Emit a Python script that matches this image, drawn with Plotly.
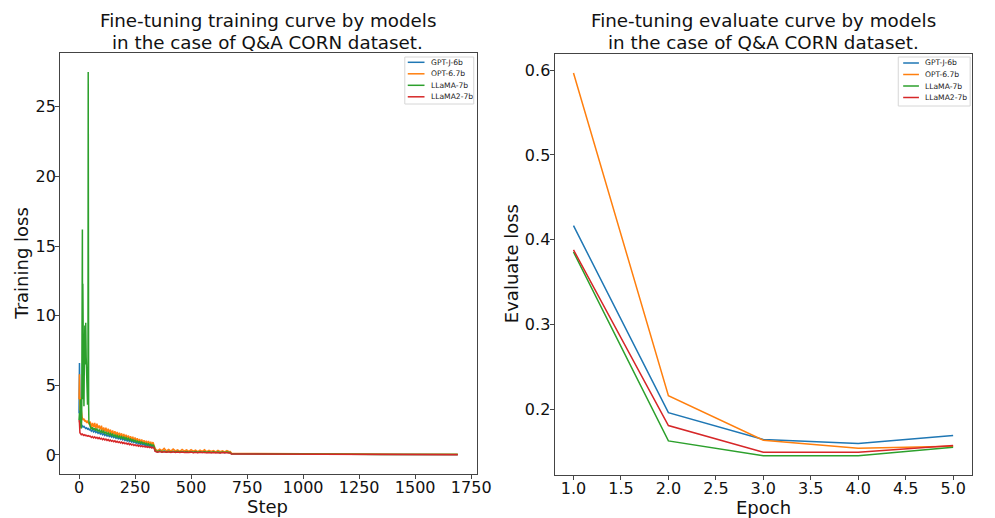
import plotly.graph_objects as go

W, H = 995, 518
FONT = "DejaVu Sans"

models = ["GPT-J-6b", "OPT-6.7b", "LLaMA-7b", "LLaMA2-7b"]
colors = ["#1f77b4", "#ff7f0e", "#2ca02c", "#d62728"]

# ---- training loss (per step) ----
# shared step grids for the later part of training
band_steps = list(range(50, 340, 5))      # epoch 1 body
mid_steps = list(range(340, 680, 10))     # epoch 2
tail_steps = [675, 680, 760, 850, 930, 1010, 1015, 1020, 1100, 1200, 1350, 1355, 1450, 1550, 1690]

gptj_head_steps = [0, 2, 4, 6, 8, 10, 14, 18, 22, 26, 30, 34, 38, 42, 46]
gptj_head = [3.0, 6.6, 4.2, 2.6, 2.3, 2.2, 2.1, 2.0, 2.05, 1.95, 1.9, 1.95, 1.85, 1.9, 1.8]
gptj_band = [1.85, 1.7, 1.8, 1.65, 1.74, 1.6, 1.68, 1.55, 1.63, 1.5,
             1.58, 1.45, 1.53, 1.4, 1.48, 1.36, 1.44, 1.32, 1.4, 1.28,
             1.36, 1.24, 1.32, 1.2, 1.28, 1.16, 1.24, 1.12, 1.2, 1.08,
             1.16, 1.04, 1.12, 1.0, 1.08, 0.96, 1.04, 0.92, 1.0, 0.88,
             0.96, 0.84, 0.92, 0.8, 0.88, 0.76, 0.84, 0.72, 0.8, 0.68,
             0.76, 0.64, 0.72, 0.6, 0.68, 0.56, 0.64, 0.52]
gptj_mid = [0.28, 0.22, 0.27, 0.21, 0.26, 0.21, 0.26, 0.2, 0.25, 0.2,
            0.25, 0.19, 0.24, 0.19, 0.24, 0.19, 0.23, 0.18, 0.23, 0.18,
            0.22, 0.18, 0.22, 0.17, 0.21, 0.17, 0.21, 0.17, 0.2, 0.16,
            0.2, 0.16, 0.2, 0.16]
gptj_tail = [0.16, 0.08, 0.08, 0.08, 0.07, 0.07, 0.04, 0.04, 0.04, 0.04, 0.03, 0.03, 0.03, 0.03, 0.03]

opt_head_steps = [0, 2, 4, 6, 8, 10, 14, 18, 22, 26, 30, 34, 38, 42, 46]
opt_head = [4.0, 5.8, 3.2, 4.1, 2.8, 3.2, 2.7, 2.5, 2.6, 2.4, 2.5, 2.3, 2.4, 2.3, 2.2]
opt_band = [2.4, 1.95, 2.3, 2.0, 2.3, 1.88, 2.25, 1.92, 2.12, 1.82,
            2.1, 1.72, 1.98, 1.68, 1.95, 1.62, 1.88, 1.58, 1.82, 1.52,
            1.75, 1.48, 1.7, 1.42, 1.64, 1.38, 1.6, 1.32, 1.55, 1.28,
            1.5, 1.22, 1.45, 1.18, 1.4, 1.12, 1.34, 1.08, 1.3, 1.02,
            1.25, 0.98, 1.2, 0.93, 1.14, 0.9, 1.1, 0.86, 1.05, 0.82,
            1.02, 0.78, 1.0, 0.76, 0.95, 0.73, 0.92, 0.7]
opt_mid = [0.44, 0.29, 0.41, 0.31, 0.47, 0.29, 0.39, 0.27, 0.42, 0.29,
           0.37, 0.26, 0.4, 0.28, 0.36, 0.25, 0.38, 0.27, 0.35, 0.24,
           0.34, 0.26, 0.37, 0.23, 0.33, 0.25, 0.31, 0.22, 0.33, 0.24,
           0.3, 0.21, 0.31, 0.23]
opt_tail = [0.24, 0.12, 0.11, 0.1, 0.1, 0.09, 0.06, 0.05, 0.05, 0.05, 0.04, 0.04, 0.04, 0.04, 0.04]

llama_head_steps = [0, 2, 4, 6, 8, 10, 12, 14, 15, 16, 17, 18, 19, 20, 22, 24, 26, 28, 30, 32,
                    34, 36, 38, 40, 41, 42, 43, 44, 46, 48]
llama_head = [2.5, 3.0, 2.2, 4.0, 2.0, 1.9, 2.6, 12.5, 16.2, 4.0, 12.3, 5.5, 8.0, 6.0, 3.5, 7.2, 9.3, 6.5, 9.5, 7.0,
              5.5, 4.5, 3.6, 6.0, 27.5, 5.0, 3.5, 2.4, 2.2, 2.1]
llama_band = [2.05, 1.85, 1.98, 1.8, 1.92, 1.74, 1.86, 1.7, 1.8, 1.64,
              1.75, 1.58, 1.7, 1.54, 1.64, 1.48, 1.6, 1.44, 1.55, 1.4,
              1.5, 1.35, 1.45, 1.3, 1.4, 1.26, 1.36, 1.22, 1.32, 1.18,
              1.28, 1.14, 1.24, 1.1, 1.2, 1.06, 1.15, 1.02, 1.1, 0.98,
              1.05, 0.94, 1.0, 0.9, 0.96, 0.86, 0.92, 0.82, 0.88, 0.78,
              0.84, 0.74, 0.8, 0.7, 0.76, 0.66, 0.72, 0.62]
llama_mid = [0.3, 0.24, 0.29, 0.23, 0.28, 0.22, 0.27, 0.22, 0.27, 0.21,
             0.26, 0.21, 0.25, 0.2, 0.25, 0.2, 0.24, 0.2, 0.24, 0.19,
             0.23, 0.19, 0.23, 0.19, 0.22, 0.18, 0.22, 0.18, 0.21, 0.18,
             0.21, 0.17, 0.21, 0.17]
llama_tail = [0.17, 0.09, 0.09, 0.08, 0.08, 0.08, 0.04, 0.04, 0.04, 0.04, 0.03, 0.03, 0.03, 0.03, 0.03]

llama2_head_steps = [0, 2, 4, 6, 10, 14, 18, 22, 26, 30, 34, 38, 42, 46]
llama2_head = [2.5, 2.3, 1.6, 1.5, 1.45, 1.5, 1.42, 1.4, 1.45, 1.38, 1.4, 1.35, 1.38, 1.33]
llama2_band = [1.35, 1.25, 1.32, 1.22, 1.3, 1.2, 1.27, 1.17, 1.24, 1.14,
               1.2, 1.1, 1.17, 1.07, 1.14, 1.04, 1.1, 1.01, 1.07, 0.98,
               1.04, 0.95, 1.01, 0.92, 0.98, 0.89, 0.95, 0.86, 0.92, 0.83,
               0.89, 0.8, 0.86, 0.77, 0.83, 0.74, 0.8, 0.71, 0.77, 0.68,
               0.74, 0.66, 0.71, 0.63, 0.69, 0.61, 0.66, 0.58, 0.64, 0.56,
               0.61, 0.54, 0.59, 0.52, 0.57, 0.5, 0.55, 0.48]
llama2_mid = [0.25, 0.2, 0.24, 0.19, 0.23, 0.19, 0.22, 0.18, 0.22, 0.18,
              0.21, 0.17, 0.21, 0.17, 0.2, 0.17, 0.2, 0.16, 0.19, 0.16,
              0.19, 0.16, 0.18, 0.15, 0.18, 0.15, 0.18, 0.15, 0.17, 0.14,
              0.17, 0.14, 0.16, 0.14]
llama2_tail = [0.14, 0.07, 0.07, 0.06, 0.06, 0.06, 0.03, 0.03, 0.03, 0.03, 0.03, 0.02, 0.02, 0.02, 0.02]

# ---- evaluation loss (per epoch) ----
epochs = [1, 2, 3, 4, 5]
eval_gptj = [0.4165, 0.196, 0.1643, 0.1596, 0.169]
eval_opt = [0.5965, 0.2161, 0.1635, 0.1541, 0.1565]
eval_llama = [0.3855, 0.1627, 0.1451, 0.1451, 0.1553]
eval_llama2 = [0.388, 0.1808, 0.1494, 0.1494, 0.1573]

train_series = [
    (gptj_head_steps, gptj_head, gptj_band, gptj_mid, gptj_tail),
    (opt_head_steps, opt_head, opt_band, opt_mid, opt_tail),
    (llama_head_steps, llama_head, llama_band, llama_mid, llama_tail),
    (llama2_head_steps, llama2_head, llama2_band, llama2_mid, llama2_tail),
]
eval_series = [eval_gptj, eval_opt, eval_llama, eval_llama2]


def px(x):
    return x / W


def py(y):
    return 1 - y / H


fig = go.Figure()

for name, color, (hs, hv, bv, mv, tv) in zip(models, colors, train_series):
    fig.add_trace(go.Scatter(
        x=hs + band_steps + mid_steps + tail_steps,
        y=hv + bv + mv + tv,
        mode="lines", name=name, line=dict(color=color, width=1.5),
        xaxis="x", yaxis="y", showlegend=False,
    ))

for name, color, vals in zip(models, colors, eval_series):
    fig.add_trace(go.Scatter(
        x=epochs, y=vals, mode="lines", name=name,
        line=dict(color=color, width=1.5),
        xaxis="x2", yaxis="y2", showlegend=False,
    ))

axis_common = dict(
    showline=True, mirror=True, linecolor="#444", linewidth=1,
    ticks="outside", ticklen=4, tickwidth=1, tickcolor="#444",
    showgrid=False, zeroline=False,
    tickfont=dict(family=FONT, size=16, color="#111"),
)

fig.update_layout(
    width=W, height=H,
    margin=dict(l=0, r=0, t=0, b=0),
    paper_bgcolor="white", plot_bgcolor="white",
    font=dict(family=FONT, color="#111"),
    xaxis=dict(domain=[px(61), px(484)], range=[-84.5, 1774.5],
               tickvals=[0, 250, 500, 750, 1000, 1250, 1500, 1750], anchor="y",
               ticklabelstandoff=-5, **axis_common),
    yaxis=dict(domain=[py(474), py(53)], range=[-1.37, 28.87],
               tickvals=[0, 5, 10, 15, 20, 25], anchor="x",
               ticklabelstandoff=-4, **axis_common),
    xaxis2=dict(domain=[px(563), px(987)], range=[0.8, 5.2],
                tickvals=[1.0, 1.5, 2.0, 2.5, 3.0, 3.5, 4.0, 4.5, 5.0], tickformat=".1f",
                anchor="y2", ticklabelstandoff=-5, **axis_common),
    yaxis2=dict(domain=[py(475), py(54)], range=[0.1225, 0.619],
                tickvals=[0.2, 0.3, 0.4, 0.5, 0.6], tickformat=".1f",
                anchor="x2", ticklabelstandoff=-4, **axis_common),
)

annotations = []
# titles, one annotation per line
for cx, line1, line2 in [
    (272, "Fine-tuning training curve by models", "in the case of Q&A CORN dataset."),
    (775, "Fine-tuning evaluate curve by models", "in the case of Q&A CORN dataset."),
]:
    for cy, text in [(20, line1), (42, line2)]:
        annotations.append(dict(x=px(cx), y=py(cy), text=text,
                                showarrow=False, xanchor="center", yanchor="middle",
                                font=dict(family=FONT, size=18.3, color="#111")))
# axis labels
annotations += [
    dict(x=px(272), y=py(506), text="Step", showarrow=False, xanchor="center", yanchor="middle",
         font=dict(family=FONT, size=18, color="#111")),
    dict(x=px(775), y=py(507), text="Epoch", showarrow=False, xanchor="center", yanchor="middle",
         font=dict(family=FONT, size=18, color="#111")),
    dict(x=px(21), y=py(263), text="Training loss", textangle=-90, showarrow=False,
         xanchor="center", yanchor="middle", font=dict(family=FONT, size=18, color="#111")),
    dict(x=px(519), y=py(264), text="Evaluate loss", textangle=-90, showarrow=False,
         xanchor="center", yanchor="middle", font=dict(family=FONT, size=18, color="#111")),
]
for a in annotations:
    a.setdefault("xref", "paper")
    a.setdefault("yref", "paper")

shapes = []
# legend boxes: (box left, top, right, bottom, line x0, line x1, text x, row ys)
legend_specs = [
    (411, 57, 481, 104, 414, 431, 436, [62.3, 73.8, 85.3, 96.8]),
    (912, 57, 985, 106, 917, 933, 937, [63, 74.5, 86, 97.5]),
]
for bx0, by0, bx1, by1, lx0, lx1, tx, rows in legend_specs:
    shapes.append(dict(type="rect", xref="paper", yref="paper",
                       x0=px(bx0), x1=px(bx1), y0=py(by1), y1=py(by0),
                       line=dict(color="#d6d6d6", width=1), fillcolor="rgba(255,255,255,0.8)"))
    for name, color, ry in zip(models, colors, rows):
        shapes.append(dict(type="line", xref="paper", yref="paper",
                           x0=px(lx0), x1=px(lx1), y0=py(ry), y1=py(ry),
                           line=dict(color=color, width=1.5)))
        annotations.append(dict(x=px(tx), y=py(ry), xref="paper", yref="paper", text=name,
                                showarrow=False, xanchor="left", yanchor="middle",
                                font=dict(family=FONT, size=7.6, color="#222")))

fig.update_layout(annotations=annotations, shapes=shapes)

fig.write_html("out.html")
